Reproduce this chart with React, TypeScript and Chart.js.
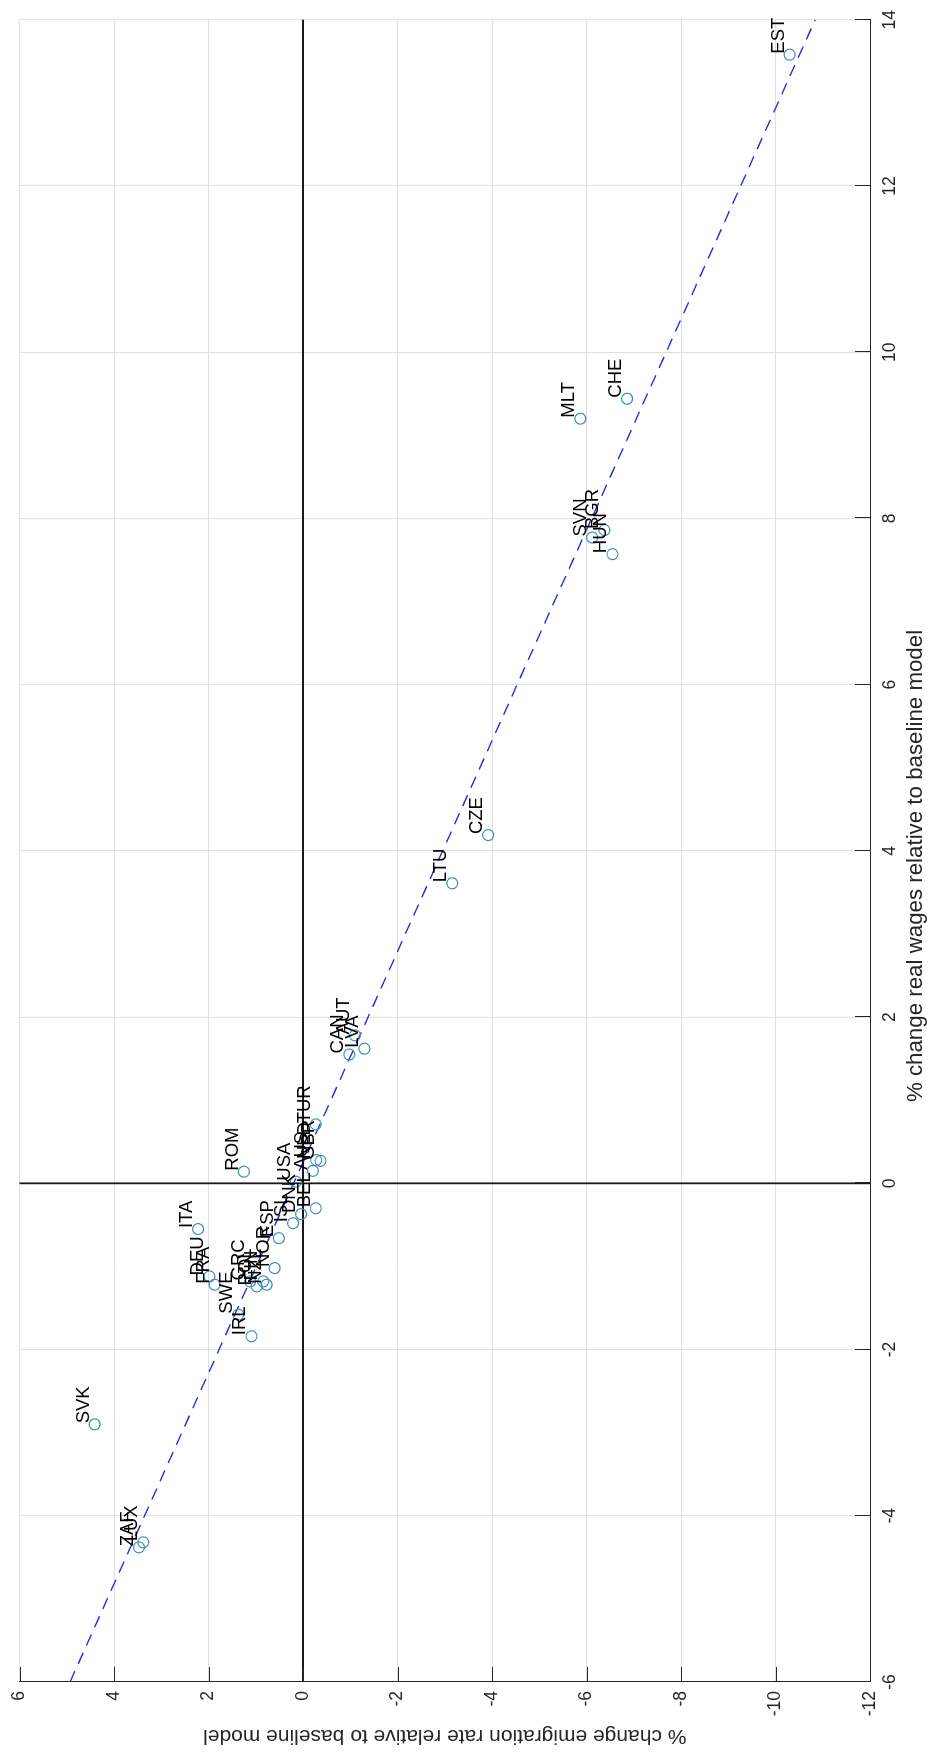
import React, { useEffect, useRef } from 'react';
import { Chart, registerables } from 'chart.js';

Chart.register(...registerables);

// ---- data ----
const countries = ['EST', 'CHE', 'MLT', 'BGR', 'SVN', 'HUN', 'CZE', 'LTU', 'LVA', 'CAN', 'AUT', 'TUR', 'GBR', 'NLD', 'AUS', 'USA', 'ROM', 'BEL', 'DNK', 'ISL', 'ESP', 'NOR', 'NZL', 'FIN', 'POL', 'GRC', 'DEU', 'FRA', 'ITA', 'SWE', 'IRL', 'SVK', 'ZAF', 'LUX'];
const wageChange = [13.58, 9.44, 9.2, 7.86, 7.77, 7.57, 4.19, 3.61, 1.62, 1.55, 1.78, 0.71, 0.27, 0.28, 0.15, 0.02, 0.14, -0.3, -0.37, -0.48, -0.66, -1.02, -1.22, -1.18, -1.24, -1.18, -1.12, -1.22, -0.55, -1.58, -1.84, -2.9, -4.38, -4.32];
const emigrationChange = [-10.3, -6.86, -5.87, -6.38, -6.12, -6.55, -3.92, -3.16, -1.3, -0.98, -1.1, -0.27, -0.37, -0.28, -0.21, 0.15, 1.25, -0.27, 0.04, 0.21, 0.51, 0.6, 0.77, 0.84, 0.98, 1.12, 1.98, 1.87, 2.22, 1.37, 1.09, 4.41, 3.47, 3.38];
const fitWage = [-6, 14];
const fitEmigration = [4.93, -10.84];
const xTitle = '% change real wages relative to baseline model';
const yTitle = '% change emigration rate relative to baseline model';

const W = 1756;
const H = 933;
const FONT = '"Liberation Sans", Arial, Helvetica, sans-serif';
const AXIS = '#262626';

export default function App() {
  const ref = useRef<HTMLCanvasElement>(null);

  useEffect(() => {
    const decor = {
      id: 'decor',
      beforeDatasetsDraw(chart: any) {
        const { ctx, chartArea: a, scales } = chart;
        ctx.save();
        ctx.strokeStyle = '#1a1a1a';
        ctx.lineWidth = 1.8;
        const x0 = scales.x.getPixelForValue(0);
        const y0 = scales.y.getPixelForValue(0);
        ctx.beginPath();
        ctx.moveTo(x0, a.top);
        ctx.lineTo(x0, a.bottom);
        ctx.moveTo(a.left, y0);
        ctx.lineTo(a.right, y0);
        ctx.stroke();
        ctx.restore();
      },
      afterDatasetsDraw(chart: any) {
        const { ctx } = chart;
        const meta = chart.getDatasetMeta(0);
        ctx.save();
        ctx.fillStyle = '#000';
        ctx.font = `18.5px ${FONT}`;
        ctx.textAlign = 'left';
        ctx.textBaseline = 'alphabetic';
        meta.data.forEach((pt: any, i: number) => {
          ctx.fillText(countries[i], pt.x + 1, pt.y - 6);
        });
        ctx.restore();
      },
      afterDraw(chart: any) {
        const { ctx, chartArea: a, scales } = chart;
        ctx.save();
        ctx.strokeStyle = AXIS;
        ctx.lineWidth = 1;
        ctx.beginPath();
        scales.x.ticks.forEach((t: any) => {
          const px = Math.round(scales.x.getPixelForValue(t.value)) + 0.5;
          ctx.moveTo(px, a.bottom);
          ctx.lineTo(px, a.bottom - 15);
        });
        scales.y.ticks.forEach((t: any) => {
          const py = Math.round(scales.y.getPixelForValue(t.value)) + 0.5;
          ctx.moveTo(a.left, py);
          ctx.lineTo(a.left + 15, py);
        });
        ctx.stroke();
        // x-axis title (slightly off-centre in the reference)
        ctx.fillStyle = AXIS;
        ctx.font = `22.3px ${FONT}`;
        ctx.textAlign = 'center';
        ctx.textBaseline = 'middle';
        ctx.fillText(xTitle, 890, 916);
        ctx.restore();
      },
    };

    const points = countries.map((_, i) => ({ x: wageChange[i], y: emigrationChange[i] }));
    const fit = fitWage.map((w, i) => ({ x: w, y: fitEmigration[i] }));

    const chart = new Chart(ref.current as HTMLCanvasElement, {
      type: 'scatter',
      data: {
        datasets: [
          {
            data: points,
            pointStyle: 'circle',
            pointRadius: 5.5,
            pointBorderWidth: 1.2,
            borderColor: '#3b8cc4',
            backgroundColor: 'rgba(0,0,0,0)',
            pointBackgroundColor: 'rgba(0,0,0,0)',
            pointBorderColor: '#3b8cc4',
          },
          {
            data: fit,
            showLine: true,
            borderColor: '#2a2ae0',
            borderWidth: 1.4,
            borderDash: [12, 8],
            pointRadius: 0,
            fill: false,
          } as any,
        ],
      },
      options: {
        responsive: false,
        animation: false,
        layout: { padding: { left: 0, right: 16, top: 15, bottom: 0 } },
        plugins: { legend: { display: false }, tooltip: { enabled: false } },
        scales: {
          x: {
            type: 'linear',
            min: -6,
            max: 14,
            ticks: { stepSize: 2, padding: 10, color: AXIS, font: { family: FONT, size: 17.5 } },
            grid: { color: '#e0e0e0', lineWidth: 1, drawTicks: false },
            border: { display: true, color: AXIS, width: 1 },
            title: { display: false },
            afterFit(s: any) { s.height = 63; },
          },
          y: {
            type: 'linear',
            min: -12,
            max: 6,
            ticks: { stepSize: 2, padding: 9, color: AXIS, font: { family: FONT, size: 17.5 } },
            grid: { color: '#e0e0e0', lineWidth: 1, drawTicks: false },
            border: { display: true, color: AXIS, width: 1 },
            title: { display: true, text: yTitle, color: AXIS, font: { family: FONT, size: 21 }, padding: { top: 8, bottom: 2 } },
            afterFit(s: any) { s.width = 74; },
          },
        },
      } as any,
      plugins: [decor],
    });
    return () => chart.destroy();
  }, []);

  return (
    <div
      style={{
        position: 'absolute',
        left: 0,
        top: 0,
        width: W,
        height: H,
        background: '#fff',
        transformOrigin: '0 0',
        transform: `translateY(${W}px) rotate(-90deg)`,
      }}
    >
      <canvas ref={ref} width={W} height={H} style={{ display: 'block', width: W, height: H }} />
    </div>
  );
}
